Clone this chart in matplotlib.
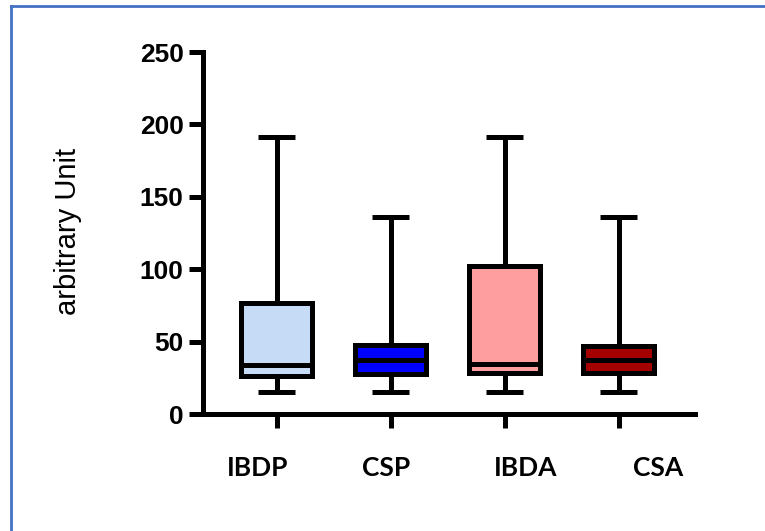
import matplotlib
matplotlib.use("Agg")
import matplotlib.pyplot as plt
from matplotlib.lines import Line2D

# data
groups = ["IBDP", "CSP", "IBDA", "CSA"]
mins = [15, 15, 15, 15]
q1s = [26, 27.5, 28.5, 28]
medians = [34, 37, 34.5, 37]
q3s = [77, 47.5, 102, 47]
maxs = [191, 136, 191, 136]
colors = ["#C6DBF5", "#0000FF", "#FF9E9E", "#A50000"]

# label offsets from their ticks (labels sit a bit off-center in the original)
label_shift = [-0.17, -0.04, 0.18, 0.35]

fig = plt.figure(figsize=(7.65, 5.31), dpi=100)
ax = fig.add_axes([0.2654, 0.2203, 0.6431, 0.6817])

stats = []
for g, lo, a, m, b, hi in zip(groups, mins, q1s, medians, q3s, maxs):
    stats.append({"label": g, "whislo": lo, "q1": a, "med": m, "q3": b, "whishi": hi})

lw = 3.6
pos = list(range(1, len(groups) + 1))
bp = ax.bxp(stats, positions=pos, widths=0.62, capwidths=0.33, showfliers=False,
            patch_artist=True,
            boxprops=dict(linewidth=lw, edgecolor="black"),
            whiskerprops=dict(linewidth=lw, color="black", solid_capstyle="butt"),
            capprops=dict(linewidth=lw, color="black", solid_capstyle="butt"),
            medianprops=dict(linewidth=lw, color="black", solid_capstyle="butt"))
for patch, c in zip(bp["boxes"], colors):
    patch.set_facecolor(c)

ax.set_ylim(0, 250)
ax.set_xlim(0.354, 4.67)
ax.set_yticks([0, 50, 100, 150, 200, 250])
ax.set_xticks(pos)
ax.set_xticklabels([""] * len(groups))

for s in ["top", "right"]:
    ax.spines[s].set_visible(False)
for s in ["left", "bottom"]:
    ax.spines[s].set_linewidth(lw)
ax.tick_params(axis="both", direction="out", length=10, width=lw)
ax.tick_params(axis="y", pad=4)
for t in ax.get_yticklabels():
    t.set_fontfamily("Liberation Sans")
    t.set_fontweight("bold")
    t.set_fontsize(19)

ax.set_ylabel("arbitrary Unit", fontfamily="Liberation Sans", fontsize=21,
              fontweight="medium")
ax.yaxis.set_label_coords(-0.245, 0.505)

# category names, placed under the axis
for p, g, dx in zip(pos, groups, label_shift):
    ax.text(p + dx, -0.15, g, transform=ax.get_xaxis_transform(),
            ha="center", va="center", fontfamily="Lato", fontweight="bold",
            fontsize=19)

# blue frame of the original screenshot (left and top edges)
fig.add_artist(Line2D([0.0144, 0.0144], [0, 0.9887], color="#4472C4", lw=2,
                      transform=fig.transFigure))
fig.add_artist(Line2D([0.0144, 1], [0.9887, 0.9887], color="#4472C4", lw=2,
                      transform=fig.transFigure))

plt.savefig("out.png", dpi=100)
